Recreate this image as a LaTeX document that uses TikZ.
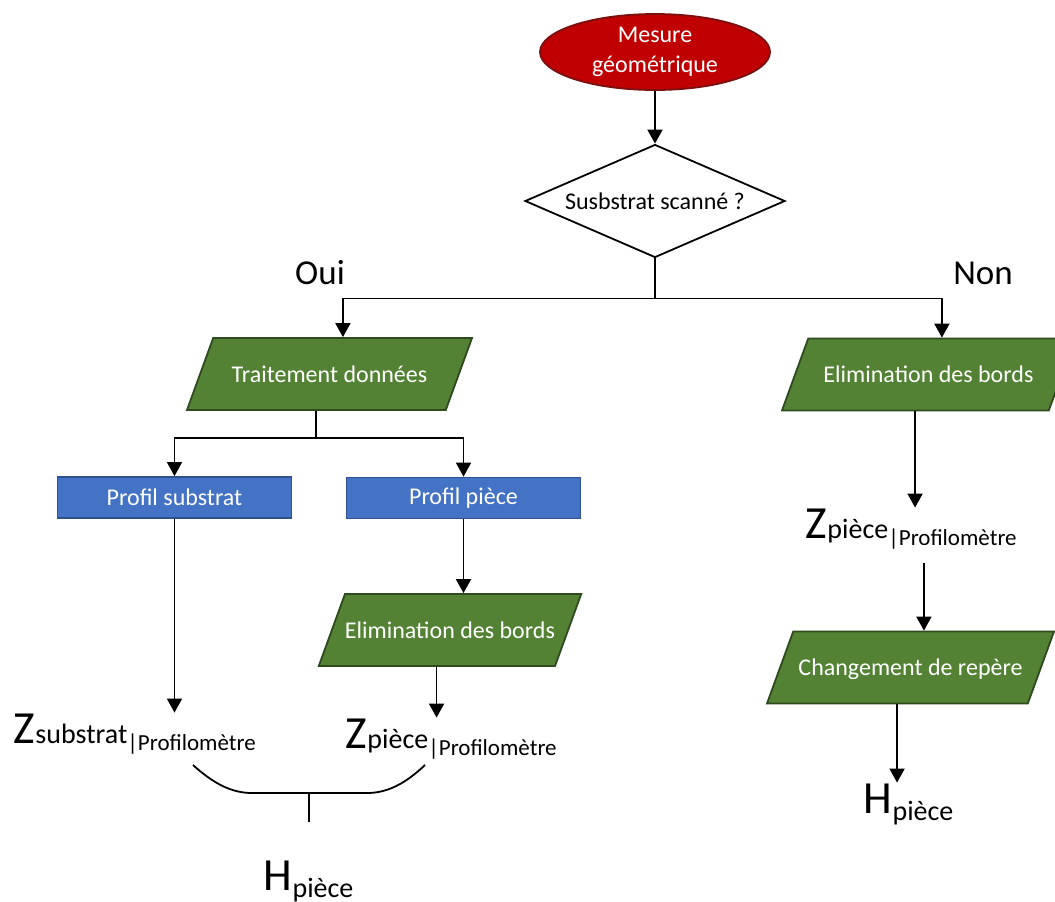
\documentclass[tikz,border=0pt]{standalone}
\usepackage{fontspec}
\setmainfont{Carlito}
\usetikzlibrary{arrows.meta,positioning,shapes.geometric,calc}
\definecolor{rouge}{HTML}{C00000}
\definecolor{rougefonce}{HTML}{7A1010}
\definecolor{vert}{HTML}{548235}
\definecolor{vertfonce}{HTML}{2E4A1E}
\definecolor{bleu}{HTML}{4472C4}
\definecolor{bleufonce}{HTML}{2F528F}
\newcommand{\grand}[1]{{\fontsize{23}{27}\selectfont #1}}
\newcommand{\moyen}[1]{{\fontsize{14}{16}\selectfont #1}}
\newcommand{\petit}[1]{\raisebox{-3.5pt}{\fontsize{11.5}{13}\selectfont |#1}}

\begin{document}
\begin{tikzpicture}[x=0.5pt,y=-0.5pt,line width=0.9pt,>={Triangle[width=7.5pt,length=7pt]},font=\fontsize{12}{15}\selectfont,
debut/.style={ellipse,draw=rougefonce,fill=rouge,text=white,align=center,inner sep=0,minimum width=115pt,minimum height=38pt},
test/.style={diamond,draw,fill=white,aspect=2.3,inner sep=0,minimum width=130pt,minimum height=56.5pt},
traite/.style={trapezium,trapezium left angle=70,trapezium right angle=110,trapezium stretches body,draw=vertfonce,fill=vert,text=white,text height=10pt,text depth=2pt,inner ysep=12pt,inner xsep=0pt},
profil/.style={rectangle,draw=bleufonce,fill=bleu,text=white,minimum width=117pt,minimum height=20.5pt},
lab/.style={inner sep=0,anchor=base west},
rep/.style={font=\fontsize{17.5}{20}\selectfont}]
\useasboundingbox (0,0) rectangle (1055,901);
\node[debut](mes) at (655,52){Mesure\\géométrique};
\node[test](scan) at (655,201){Susbstrat scanné ?};
\node[rep](oui) at (320,273){Oui};
\node[rep](non) at (983,273){Non};
\node[traite,minimum width=142.5pt](trait) at (329.5,374){Traitement données};
\node[traite,minimum width=146.5pt](elimR) at (928.5,374.5){Elimination des bords};
\node[profil](sub) at (174.5,497.5){Profil substrat};
\node[profil](pie) at (463.5,498){Profil pièce};
\node[traite,minimum width=130pt](elimL) at (450,630){Elimination des bords};
\node[traite,minimum width=143.5pt](chg) at (910.5,667.5){Changement de repère};
\node[lab](zS) at (13,743){\grand{Z}\moyen{substrat}\petit{Profilomètre}};
\node[lab](zP) at (345,748){\grand{Z}\moyen{pièce}\petit{Profilomètre}};
\node[lab](zR) at (805,538){\grand{Z}\moyen{pièce}\petit{Profilomètre}};
\node[lab](hL) at (263,890){\grand{H}\raisebox{-3.5pt}{\moyen{pièce}}};
\node[lab](hR) at (863,813){\grand{H}\raisebox{-3.5pt}{\moyen{pièce}}};
% Oui / Non
\draw[->](mes)--(scan);
\coordinate(emb) at ($(scan.south)+(0,40)$);
\draw(scan.south)--(emb);
\draw[->](emb)-|(trait.top side);
\draw[->](emb)-|(elimR.top side);
% branche gauche
\coordinate(emb2) at ($(trait.bottom side)+(0,27)$);
\draw(trait.bottom side)--(emb2);
\draw[->](emb2)-|(sub.north);
\draw[->](emb2)-|(pie.north);
\draw[->](sub.south)--(sub.south|-zS.north);
\draw[->](pie.south)--(pie.south|-elimL.north);
\draw[->](elimL.bottom side)--(elimL.bottom side|-zP.north);
% accolade
\coordinate(acc1) at (193,765);
\coordinate(acc2) at (425,765);
\coordinate(mil) at (309,793);
\coordinate(pied) at (309,822);
\draw(acc1) .. controls (214,784) and (232,793) .. (252,793)--(367,793) .. controls (387,793) and (405,784) .. (acc2);
\draw(mil)--(pied);
% branche droite
\draw[->](elimR.bottom side)--(elimR.bottom side|-zR.north);
\draw[->]($(zR.south-|chg.top side)+(0,13)$)--(chg.top side);
\draw[->](chg.bottom side)--(chg.bottom side|-hR.north);
\end{tikzpicture}
\end{document}
